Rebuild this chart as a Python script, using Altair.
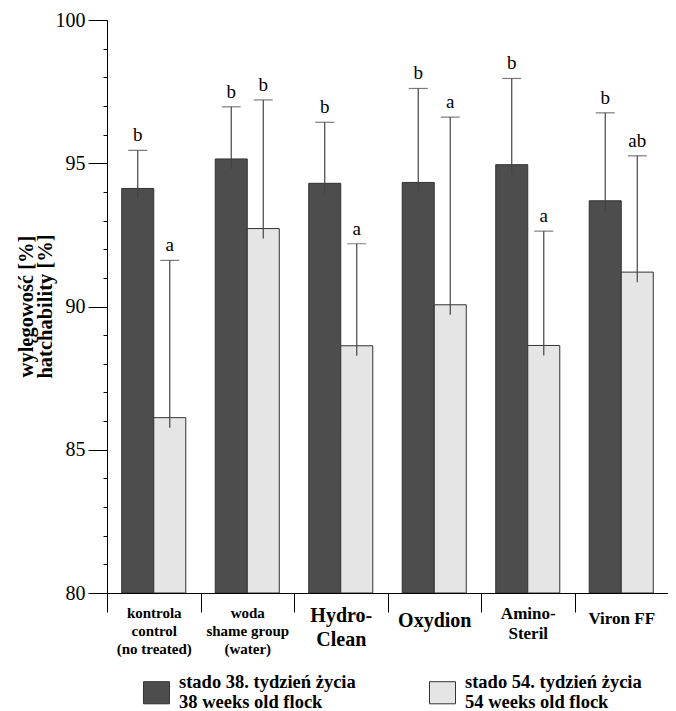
import altair as alt
import pandas as pd

categories = [
    "kontrola|control|(no treated)",
    "woda|shame group|(water)",
    "Hydro-|Clean",
    "Oxydion",
    "Amino-|Steril",
    "Viron FF",
]
series = [
    "stado 38. tydzień życia|38 weeks old flock",
    "stado 54. tydzień życia|54 weeks old flock",
]
mean_38 = [94.12, 95.15, 94.30, 94.33, 94.95, 93.69]
sd_38 = [1.33, 1.82, 2.13, 3.28, 3.01, 3.07]
mean_54 = [86.12, 92.72, 88.63, 90.06, 88.64, 91.20]
sd_54 = [5.49, 4.49, 3.56, 6.55, 3.99, 4.06]
letters_38 = ["b", "b", "b", "b", "b", "b"]
letters_54 = ["a", "b", "a", "a", "a", "ab"]
y_ticks = [80, 85, 90, 95, 100]
y_minor = list(range(80, 101))

rows = []
for i, c in enumerate(categories):
    rows.append(dict(cat=c, series=series[0], mean=mean_38[i], sd=sd_38[i], letter=letters_38[i]))
    rows.append(dict(cat=c, series=series[1], mean=mean_54[i], sd=sd_54[i], letter=letters_54[i]))
df = pd.DataFrame(rows)

FONT = "Liberation Serif"
ydom = [80, 100]
yscale = alt.Scale(domain=ydom, zero=False, nice=False)

size_expr = ("datum.value == 'Hydro-|Clean' || datum.value == 'Oxydion' ? 20 : "
             "(datum.value == 'Amino-|Steril' || datum.value == 'Viron FF' ? 17 : 15)")
lh_expr = ("datum.value == 'Hydro-|Clean' ? 24 : "
           "(datum.value == 'Amino-|Steril' ? 20 : 18)")
pad_expr = "datum.value == 'Oxydion' || datum.value == 'Viron FF' ? -2 : -7"

x_axis = alt.Axis(
    title=None,
    labelExpr="datum.value ? split(datum.value, '|') : ''",
    labelFont=FONT,
    labelFontWeight="bold",
    labelFontSize={"expr": size_expr},
    labelLineHeight={"expr": lh_expr},
    labelColor="black",
    labelAngle=0,
    labelBaseline="top",
    tickBand="extent",
    tickSize=19,
    tickColor="black",
    domainColor="black",
    labelPadding={"expr": pad_expr},
    labelLimit=250,
    grid=False,
)
x_enc = alt.X("cat:N", sort=categories,
              scale=alt.Scale(paddingInner=0, paddingOuter=0), axis=x_axis)
xoff = alt.XOffset("series:N", sort=series,
                   scale=alt.Scale(paddingOuter=0.46, paddingInner=0))

y_axis = alt.Axis(
    values=y_ticks,
    tickSize=19,
    tickColor="black",
    domainColor="black",
    labelFont=FONT,
    labelFontSize=20,
    labelColor="black",
    labelPadding=3,
    grid=False,
    title=["wylęgowość [%]", "hatchability [%]"],
    titleFont=FONT,
    titleFontSize=20.5,
    titleFontWeight="bold",
    titleLineHeight=19,
    titleColor="black",
    titleAngle=270,
    titleBaseline="middle",
    titleAlign="center",
    titleX=-81,
    titleY=286,
)

base = alt.Chart(df).transform_calculate(
    lo="datum.mean - 0.35", hi="datum.mean + datum.sd"
)

bars = base.mark_bar(stroke="#333333", strokeWidth=1, clip=True).encode(
    x=x_enc,
    xOffset=xoff,
    y=alt.Y("mean:Q", scale=yscale, axis=y_axis),
    y2=alt.datum(80),
    color=alt.Color(
        "series:N",
        sort=series,
        scale=alt.Scale(domain=series, range=["#4d4d4d", "#e5e5e5"]),
        legend=alt.Legend(
            title=None,
            orient="none",
            legendX=36,
            legendY=659,
            direction="horizontal",
            columns=2,
            columnPadding=71,
            labelExpr="split(datum.label, '|')",
            labelFont=FONT,
            labelFontSize=18.5,
            labelFontWeight="bold",
            labelColor="black",
            labelBaseline="line-bottom",
            labelLimit=300,
            labelOffset=9,
            symbolType="M-1,-0.85H1V0.85H-1Z",
            symbolSize=676,
            symbolStrokeColor="#333333",
            symbolStrokeWidth=1,
            symbolOpacity=1,
        ),
    ),
)

err = base.mark_rule(color="#444444", strokeWidth=1.2).encode(
    x=alt.X("cat:N", sort=categories),
    xOffset=xoff,
    y=alt.Y("lo:Q", scale=yscale),
    y2="hi:Q",
)

caps = base.mark_tick(
    orient="horizontal", size=19, thickness=1.2, color="#444444"
).encode(
    x=alt.X("cat:N", sort=categories),
    xOffset=xoff,
    y=alt.Y("hi:Q", scale=yscale),
)

letters = base.mark_text(
    dy=-5, baseline="bottom", font=FONT, fontSize=19, color="black"
).encode(
    x=alt.X("cat:N", sort=categories),
    xOffset=xoff,
    y=alt.Y("hi:Q", scale=yscale),
    text="letter:N",
)

minor = base.mark_rule(opacity=0).encode(
    y=alt.Y(
        "mean:Q",
        scale=yscale,
        axis=alt.Axis(
            orient="left",
            values=y_minor,
            tickSize=4,
            tickColor="black",
            labels=False,
            domain=False,
            title=None,
            grid=False,
        ),
    ),
)

chart = alt.layer(
    alt.layer(bars, err, caps, letters), minor
).resolve_scale(y="independent").properties(
    width=561,
    height=573,
    padding={"left": 99, "top": 12, "right": 0, "bottom": 118},
    autosize=alt.AutoSizeParams(type="none"),
    background="white",
).configure_view(stroke=None)

chart.save("out.html", embed_options={"renderer": "svg", "actions": False})
